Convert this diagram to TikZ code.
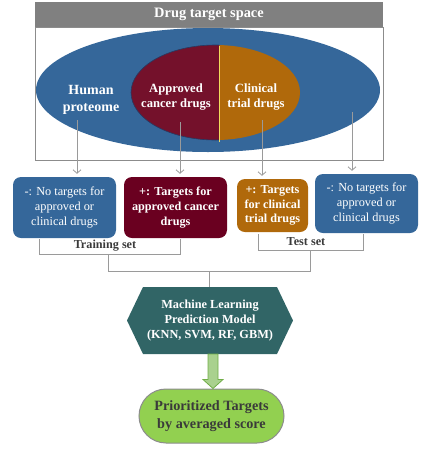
\documentclass[tikz,border=0pt]{standalone}
\usepackage{fontspec}
\setmainfont{Liberation Serif}
\usetikzlibrary{arrows.meta,shapes.misc,calc}
\definecolor{pblue}{HTML}{35679A}
\definecolor{dred}{HTML}{74112B}
\definecolor{bred}{HTML}{6A0020}
\definecolor{porange}{HTML}{B0690B}
\definecolor{hgray}{HTML}{808080}
\definecolor{fgray}{HTML}{8C8C8C}
\definecolor{lgray}{HTML}{9A9A9A}
\definecolor{teal2}{HTML}{316566}
\definecolor{pgreen}{HTML}{92D050}
\definecolor{agreen}{HTML}{A9D18E}
\definecolor{agreenb}{HTML}{70AD47}
\definecolor{dtext}{HTML}{3A3A3A}
\definecolor{navy2}{HTML}{1F3A6B}
\definecolor{divy}{HTML}{F2DC5D}
\begin{document}
\begin{tikzpicture}[x=1pt,y=-1pt,
  catbox/.style={rounded corners=8pt, text=white, align=center, inner sep=0pt,
     font=\fontsize{12.3}{14.8}\selectfont},
  ellabel/.style={text=white, align=center, font=\bfseries\fontsize{12.6}{15}\selectfont},
  conn/.style={draw=lgray, line width=0.8pt},
  carrow/.style={conn, -{Straight Barb[length=3.5pt,width=8pt]}, shorten >=3pt},
  setlabel/.style={text=dtext, font=\bfseries\fontsize{12.2}{14}\selectfont, inner sep=1pt}
]
\useasboundingbox (0,0) rectangle (437,451);

% header and frame
\node[draw=fgray, line width=0.9pt, minimum width=348pt, minimum height=133pt, inner sep=0pt] (frame) at (209,93.5) {};
\node[fill=hgray, minimum width=348pt, minimum height=25pt, inner sep=0pt, text=white,
      font=\bfseries\fontsize{14.4}{16}\selectfont] (hdr) at (209,14.5) {Drug target space};

% proteome ellipse
\fill[pblue] (208,90) ellipse [x radius=172pt, y radius=62pt];
% inner ellipse: orange full, red left part
\fill[porange] (215.5,92.5) ellipse [x radius=84.5pt, y radius=47.5pt];
\begin{scope}
  \clip (125,40) rectangle (219,145);
  \fill[dred] (215.5,92.5) ellipse [x radius=84.5pt, y radius=47.5pt];
  \draw[navy2, line width=0.6pt] (215.5,92.5) ellipse [x radius=84.5pt, y radius=47.5pt];
\end{scope}
\draw[divy, line width=1pt] (219,46) -- (219,142);

\node[ellabel, font=\bfseries\fontsize{14}{17}\selectfont] (hp) at (91,100) {Human\\proteome};
\node[ellabel] (acd) at (176,97.5) {Approved\\cancer drugs};
\node[ellabel] (ctd) at (256,97.5) {Clinical\\trial drugs};

\coordinate (s1) at (77,120);
\coordinate (s2) at (180,122);
\coordinate (s3) at (262,120);
\coordinate (s4) at (352,112);

% boxes
\node[catbox, fill=pblue, minimum width=103pt, minimum height=61pt] (b1) at (64.5,207.5)
  {-: No targets for\\approved or\\clinical drugs};
\node[catbox, fill=bred, minimum width=103pt, minimum height=61pt, font=\bfseries\fontsize{12.2}{14.8}\selectfont] (b2) at (175.5,207.5)
  {+: Targets for\\approved cancer\\drugs};
\node[catbox, fill=porange, minimum width=71pt, minimum height=53pt, font=\bfseries\fontsize{12.2}{14.5}\selectfont] (b3) at (272.5,205.5)
  {+: Targets\\for clinical\\trial drugs};
\node[catbox, fill=pblue, minimum width=103pt, minimum height=59pt] (b4) at (366.5,203.5)
  {-: No targets for\\approved or\\clinical drugs};

\draw[carrow] (s1) -- (s1 |- b1.north);
\draw[carrow] (s2) -- (s2 |- b2.north);
\draw[carrow] (s3) -- (s3 |- b3.north);
\draw[carrow] (s4) -- (s4 |- b4.north);

% set labels and brackets
\node[setlabel] (tr) at (105,245.5) {Training set};
\node[setlabel] (te) at (306,242) {Test set};
\coordinate (trl) at (39,239);
\coordinate (trr) at (180,239);
\coordinate (trm) at (108,254);
\coordinate (tel) at (258,234);
\coordinate (ter) at (363,234);
\coordinate (tem) at (310,250);
\coordinate (jl) at (108,271);
\coordinate (jr) at (310,271);
\coordinate (jm) at (209,271);

\draw[conn] (trl) -- (trl |- trm) -- (trr |- trm) -- (trr);
\draw[conn] (tel) -- (tel |- tem) -- (ter |- tem) -- (ter);
\draw[conn] (trm) -- (jl) -- (jr) -- (tem);

% ML hexagon
\fill[teal2] (127,320.5) -- (143,287) -- (277,287) -- (293,320.5) -- (277,354) -- (143,354) -- cycle;
\node[text=white, align=center, inner sep=0pt, minimum width=166pt, minimum height=67pt,
      font=\bfseries\fontsize{12.3}{14.8}\selectfont] (ml) at (210,320.5)
  {Machine Learning\\Prediction Model\\(KNN, SVM, RF, GBM)};
\draw[conn] (jm) -- (jm |- ml.north);

% result pill
\node[rounded rectangle, fill=pgreen, draw=fgray, line width=1pt, minimum width=145pt, minimum height=54pt,
      inner sep=0pt, align=center, text=dtext, font=\bfseries\fontsize{14.2}{18}\selectfont] (res) at (211.5,416)
  {Prioritized Targets\\by averaged score};

% green block arrow
\coordinate (ga) at (213,354);
\draw[agreenb, fill=agreen, line width=0.8pt]
  ($(ga)+(-5,0)$) -- ($(ga)+(5,0)$) -- ($(ga |- res.north)+(5,-9)$) -- ($(ga |- res.north)+(10,-9)$)
  -- (ga |- res.north) -- ($(ga |- res.north)+(-10,-9)$) -- ($(ga |- res.north)+(-5,-9)$) -- cycle;
\end{tikzpicture}
\end{document}
